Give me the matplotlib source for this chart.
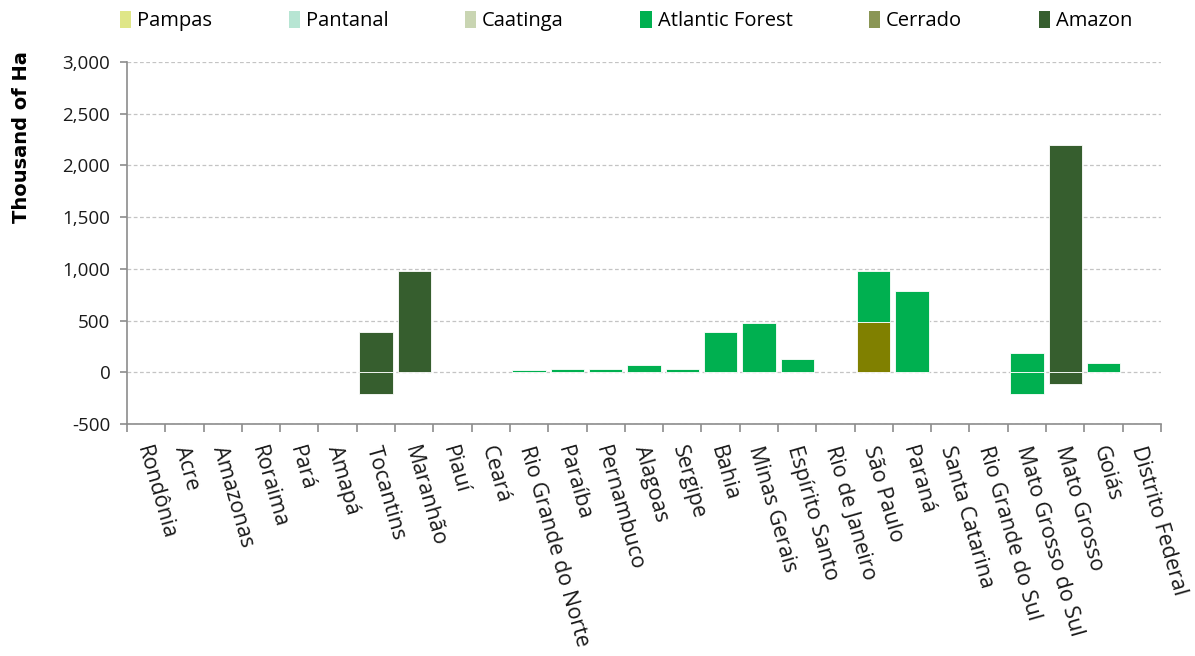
import numpy as np
import matplotlib
matplotlib.use("Agg")
import matplotlib.pyplot as plt
from matplotlib.patches import Patch

# states (x axis)
states = ['Rondônia', 'Acre', 'Amazonas', 'Roraima', 'Pará', 'Amapá', 'Tocantins',
          'Maranhão', 'Piauí', 'Ceará', 'Rio Grande do Norte', 'Paraíba',
          'Pernambuco', 'Alagoas', 'Sergipe', 'Bahia', 'Minas Gerais',
          'Espírito Santo', 'Rio de Janeiro', 'São Paulo', 'Paraná',
          'Santa Catarina', 'Rio Grande do Sul', 'Mato Grosso do Sul',
          'Mato Grosso', 'Goiás', 'Distrito Federal']

# thousand of ha
pampas = [0] * 27
pantanal = [0] * 27
caatinga = [0] * 27
cerrado = [0, 0, 0, 0, 0, 0, 0, 0, 0, 0, 0, 0, 0, 0, 0, 0, 0, 0, 0, 490, 0, 0, 0, 0, 0, 0, 0]
atlantic = [0, 0, 0, 0, 0, 0, 0, 0, 0, 0, 18, 30, 30, 75, 28, 385, 475, 130, 0, 485, 790, 0, 0, 190, 0, 85, 0]
atlantic_loss = [0, 0, 0, 0, 0, 0, 0, 0, 0, 0, 0, 0, 0, 0, 0, 0, 0, 0, 0, 0, 0, 0, 0, -210, 0, 0, 0]
amazon = [0, 0, 0, 0, 0, 0, 390, 980, 0, 0, 0, 0, 0, 0, 0, 0, 0, 0, 0, 0, 0, 0, 0, 0, 2200, 0, 0]
amazon_loss = [0, 0, 0, 0, 0, 0, -210, 0, 0, 0, 0, 0, 0, 0, 0, 0, 0, 0, 0, 0, 0, 0, 0, 0, -115, 0, 0]

legend_names = ['Pampas', 'Pantanal', 'Caatinga', 'Atlantic Forest', 'Cerrado', 'Amazon']
legend_colors = ['#dfe688', '#b7e5d3', '#c9d5b2', '#00b050', '#8a9655', '#375f2f']

c_atl = '#00b050'
c_cer = '#808000'
c_ama = '#365e2e'

plt.rcParams['font.family'] = ['Open Sans', 'DejaVu Sans']

fig = plt.figure(figsize=(11.95, 6.56), dpi=100)
ax = fig.add_axes([0.1063, 0.3537, 0.8652, 0.5518])

x = np.arange(len(states))
w = 0.87


def stack(series, base):
    for vals, col in series:
        v = np.array(vals, dtype=float)
        m = v != 0
        if m.any():
            ax.bar(x[m], v[m], w, bottom=base[m], color=col,
                   edgecolor='white', linewidth=0.6, zorder=3)
        base += v


# gains stacked up, losses stacked down
stack([(pampas, legend_colors[0]), (pantanal, legend_colors[1]),
       (caatinga, legend_colors[2]), (cerrado, c_cer),
       (atlantic, c_atl), (amazon, c_ama)], np.zeros(len(states)))
stack([(atlantic_loss, c_atl), (amazon_loss, c_ama)], np.zeros(len(states)))

ax.set_xlim(-0.5, len(states) - 0.5)
ax.set_ylim(-500, 3000)
ax.set_yticks(np.arange(-500, 3001, 500))
ax.set_yticklabels([f'{t:,}' for t in range(-500, 3001, 500)], fontsize=13.5,
                   color='#1a1a1a')
ax.yaxis.grid(True, linestyle=(0, (3, 2)), color='#c4c4c4', linewidth=0.9, zorder=0)
ax.set_axisbelow(True)

for s in ['top', 'right']:
    ax.spines[s].set_visible(False)
for s in ['left', 'bottom']:
    ax.spines[s].set_color('#8c8c8c')
    ax.spines[s].set_linewidth(1.2)

ax.tick_params(axis='y', length=5, color='#8c8c8c', width=1.2, pad=7)

# category boundary ticks + rotated labels
ax.set_xticks(np.arange(-0.5, len(states), 1.0))
ax.set_xticklabels([])
ax.tick_params(axis='x', length=6, color='#8c8c8c', width=1.2)
for i, name in enumerate(states):
    ax.annotate(name, xy=(i, 0), xycoords=('data', 'axes fraction'),
                xytext=(-3, -16), textcoords='offset points',
                rotation=-74, rotation_mode='anchor', ha='left', va='center',
                fontsize=15.5, color='#1a1a1a')

ax.set_ylabel('Thousand of Ha', fontsize=14, fontweight='bold',
              family=['DejaVu Sans'])
ax.yaxis.set_label_coords(-0.093, 0.793)

handles = [Patch(facecolor=c, edgecolor='none') for c in legend_colors]
fig.legend(handles, legend_names, loc='center', bbox_to_anchor=(0.524, 0.968),
           ncol=6, frameon=False, fontsize=14.5, handlelength=0.55,
           handleheight=0.9, handletextpad=0.3, columnspacing=3.8)

fig.savefig('out.png', dpi=100)
